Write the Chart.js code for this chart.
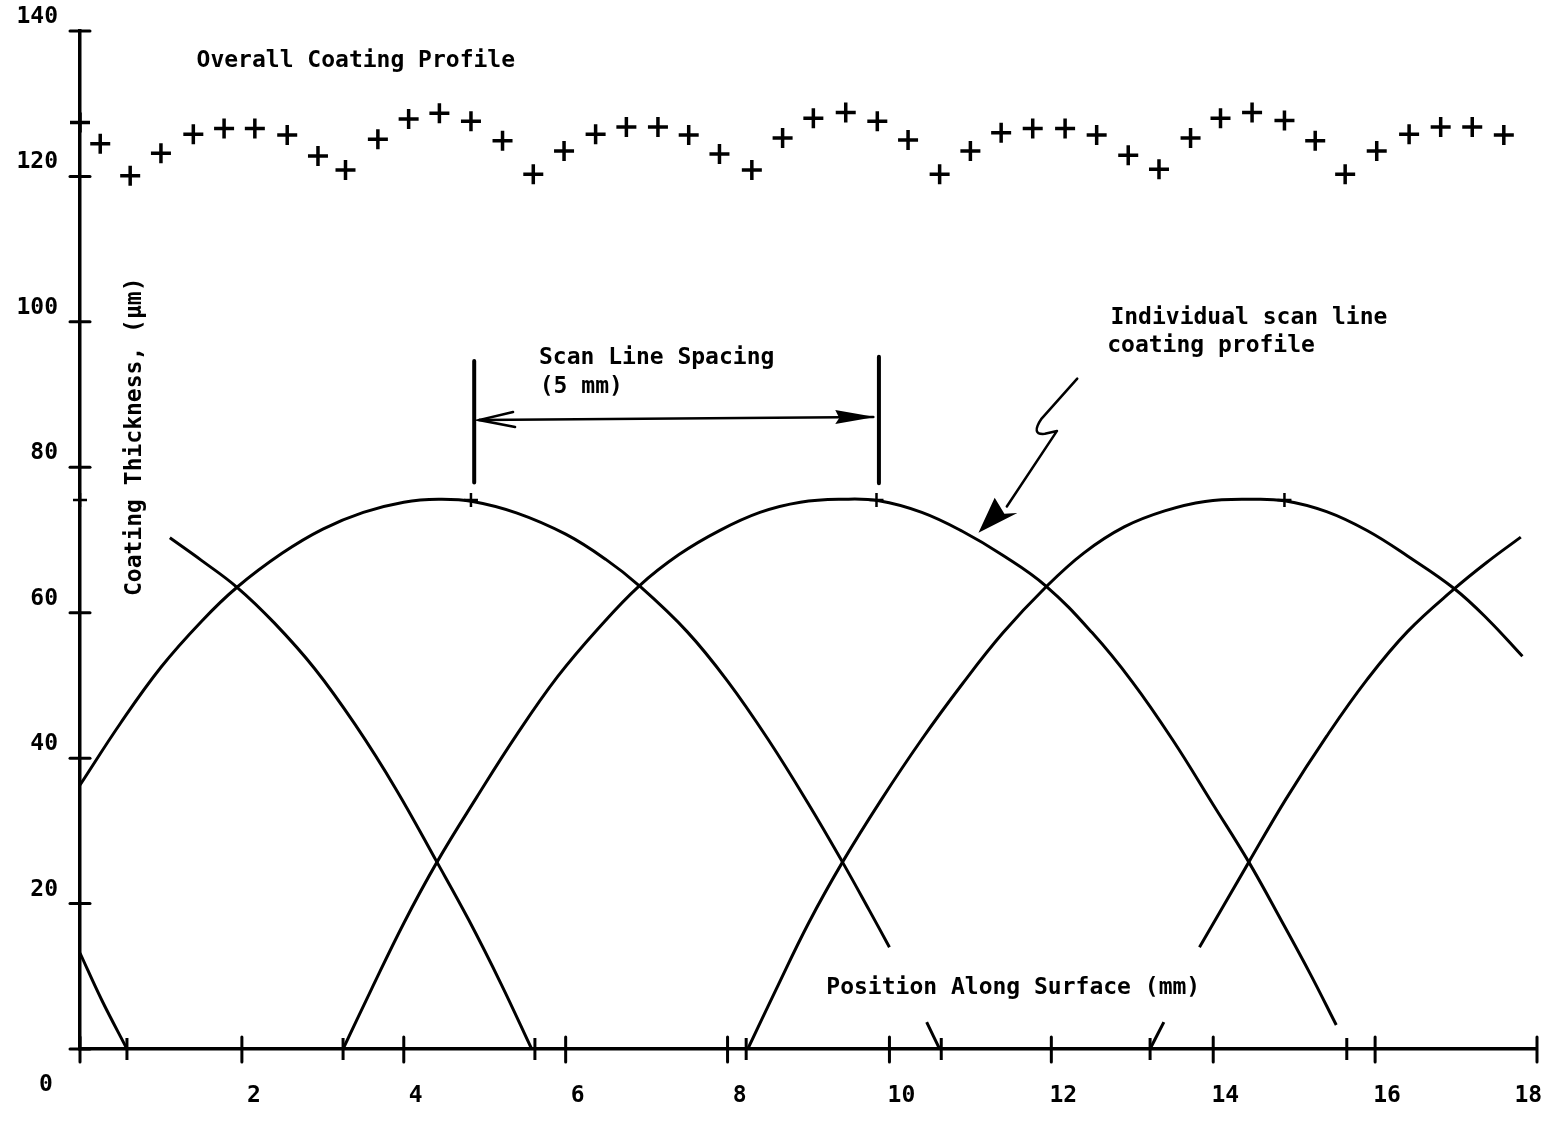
<!DOCTYPE html>
<html>
<head>
<meta charset="utf-8">
<title>Coating Thickness Profile</title>
<script src="https://cdn.jsdelivr.net/npm/chart.js@4.4.1/dist/chart.umd.min.js"></script>
<style>
  html, body { margin: 0; padding: 0; background: #fff; }
  #wrap { width: 1559px; height: 1122px; position: relative; }
</style>
</head>
<body>
<div id="wrap"><canvas id="coatingChart"></canvas></div>
<script>
// position along surface (mm) / coating thickness (um)
const xTicks = [0, 2, 4, 6, 8, 10, 12, 14, 16, 18];
const yTicks = [0, 20, 40, 60, 80, 100, 120, 140];

// overall coating profile (+ markers)
const overallX = [0, 0.25, 0.62, 1.0, 1.40, 1.78, 2.16, 2.56, 2.94, 3.28, 3.68, 4.06, 4.44, 4.83, 5.22, 5.60,
  5.98, 6.37, 6.75, 7.14, 7.52, 7.90, 8.30, 8.68, 9.06, 9.46, 9.85, 10.23, 10.62, 11.0, 11.38, 11.77,
  12.17, 12.56, 12.95, 13.33, 13.72, 14.09, 14.48, 14.88, 15.26, 15.63, 16.02, 16.42, 16.81, 17.20, 17.59];
const overallY = [127.4, 124.5, 120.1, 123.2, 125.8, 126.6, 126.6, 125.7, 122.8, 120.9, 125.1, 127.9, 128.7, 127.6, 124.9, 120.3,
  123.5, 125.8, 126.8, 126.8, 125.7, 123.1, 120.9, 125.3, 128.0, 128.8, 127.6, 125.0, 120.3, 123.5, 126.0, 126.6,
  126.6, 125.7, 122.9, 121.0, 125.3, 128.0, 128.8, 127.7, 124.9, 120.3, 123.5, 125.8, 126.8, 126.8, 125.7];

// individual scan line profiles (null = break in the drawn line)
const scan1X = [0, 0.27, 0.58];
const scan1Y = [13.2, 6.7, 0];

const scan2X = [1.11, 1.5, 1.94, 2.4, 2.9, 3.4, 3.9, 4.41, 4.8, 5.2, 5.58];
const scan2Y = [70.3, 67.2, 63.5, 58.6, 52.3, 44.6, 35.8, 25.7, 17.8, 9.0, 0];

const scan3X = [0, 0.5, 1.0, 1.5, 1.94, 2.5, 3.0, 3.5, 4.0, 4.43, 4.85, 5.4, 6.0, 6.5, 6.91, 7.5, 8.0, 8.5, 9.0, 9.42, 9.75, 10.0, 10.2, 10.46, 10.62];
const scan3Y = [36.3, 44.8, 52.5, 58.8, 63.5, 68.2, 71.5, 73.8, 75.2, 75.6, 75.3, 73.7, 70.8, 67.3, 63.7, 57.4, 50.6, 42.6, 33.7, 25.7, 19.1, 14.0, null, 3.7, 0];

const scan4X = [3.25, 3.6, 4.0, 4.41, 4.9, 5.4, 5.9, 6.4, 6.91, 7.4, 7.9, 8.4, 8.9, 9.42, 9.87, 10.4, 10.9, 11.4, 11.93, 12.5, 13.0, 13.5, 14.0, 14.44, 14.85, 15.2, 15.52];
const scan4Y = [0, 8.2, 17.3, 25.7, 34.6, 43.3, 51.2, 57.8, 63.7, 68.0, 71.3, 73.8, 75.2, 75.6, 75.4, 73.8, 71.2, 67.9, 63.7, 57.3, 50.5, 42.5, 33.6, 25.7, 17.5, 10.3, 3.3];

const scan5X = [8.25, 8.6, 9.0, 9.42, 9.9, 10.4, 10.9, 11.4, 11.93, 12.4, 12.9, 13.4, 13.9, 14.45, 14.88, 15.4, 15.9, 16.4, 16.98, 17.4, 17.82];
const scan5Y = [0, 8.2, 17.3, 25.7, 34.3, 42.6, 50.2, 57.2, 63.5, 68.2, 71.8, 74.0, 75.3, 75.6, 75.4, 73.9, 71.3, 67.8, 63.3, 59.0, 54.0];

const scan6X = [13.22, 13.39, 13.6, 13.83, 14.44, 14.9, 15.4, 15.9, 16.4, 16.98, 17.4, 17.8];
const scan6Y = [0, 3.7, null, 14.0, 25.7, 34.4, 43.0, 50.8, 57.4, 63.3, 67.1, 70.4];

// small + marks at the scan line peaks, and where each profile meets zero
const peakX = [0, 4.83, 9.84, 14.88];
const peakY = [75.5, 75.5, 75.5, 75.5];
const zeroX = [0.58, 3.25, 5.62, 8.23, 10.64, 13.22, 15.65];

const FONT = '"DejaVu Sans Mono", "Liberation Mono", monospace';
const pts = (xs, ys) => xs.map((x, i) => ({ x: x, y: ys[i] }));

function scanLine(xs, ys) {
  return {
    data: pts(xs, ys),
    borderColor: '#000',
    borderWidth: 3,
    pointRadius: 0,
    tension: 0.4,
    spanGaps: false,
  };
}

// axis ticks that cross the axis line, plus the lone "0" at the origin
const crossTicks = {
  id: 'crossTicks',
  afterDraw(chart) {
    const { ctx, scales: { x, y } } = chart;
    ctx.save();
    ctx.strokeStyle = '#000';
    ctx.lineWidth = 3;
    ctx.lineCap = 'round';
    xTicks.forEach(v => {
      const px = x.getPixelForValue(v);
      ctx.beginPath(); ctx.moveTo(px, y.bottom - 12); ctx.lineTo(px, y.bottom + 13); ctx.stroke();
    });
    yTicks.forEach(v => {
      const py = y.getPixelForValue(v);
      ctx.beginPath(); ctx.moveTo(x.left - 10, py); ctx.lineTo(x.left + 10, py); ctx.stroke();
    });
    ctx.fillStyle = '#000';
    ctx.font = 'bold 23px ' + FONT;
    ctx.textAlign = 'center';
    ctx.textBaseline = 'middle';
    ctx.fillText('0', x.left - 34, y.bottom + 36);
    ctx.restore();
  }
};

// captions, axis titles and arrows
const notes = {
  id: 'notes',
  afterDraw(chart) {
    const { ctx, scales: { x, y } } = chart;
    const X = v => x.getPixelForValue(v);
    const Y = v => y.getPixelForValue(v);
    ctx.save();
    ctx.fillStyle = '#000';
    ctx.strokeStyle = '#000';
    ctx.font = 'bold 23px ' + FONT;
    ctx.textAlign = 'left';
    ctx.textBaseline = 'middle';
    ctx.fillText('Overall Coating Profile', X(1.44), Y(135.9));
    ctx.fillText('Scan Line Spacing', X(5.67), Y(95.0));
    ctx.fillText('(5 mm)', X(5.68), Y(91.1));
    ctx.fillText('Individual scan line', X(12.73), Y(100.5));
    ctx.fillText('coating profile', X(12.69), Y(96.7));
    ctx.fillText('Position Along Surface (mm)', X(9.22), Y(8.4));

    // y axis title, written upward
    ctx.save();
    ctx.translate(X(0.68), Y(84.2));
    ctx.rotate(-Math.PI / 2);
    ctx.textAlign = 'center';
    ctx.fillText('Coating Thickness, (\u00b5m)', 0, 0);
    ctx.restore();

    // scan line spacing bars
    ctx.lineCap = 'round';
    ctx.lineWidth = 4;
    ctx.beginPath();
    ctx.moveTo(X(4.87), Y(94.6)); ctx.lineTo(X(4.87), Y(77.9));
    ctx.moveTo(X(9.87), Y(95.2)); ctx.lineTo(X(9.87), Y(77.8));
    ctx.stroke();

    // double arrow between the bars
    const ax1 = X(4.93), ax2 = X(9.80), ay1 = Y(86.5), ay2 = Y(86.9);
    ctx.lineWidth = 2.5;
    ctx.beginPath(); ctx.moveTo(ax1, ay1); ctx.lineTo(ax2, ay2); ctx.stroke();
    ctx.beginPath();
    ctx.moveTo(ax1 + 34, ay1 - 8); ctx.lineTo(ax1, ay1); ctx.lineTo(ax1 + 36, ay1 + 7);
    ctx.stroke();
    ctx.beginPath();
    ctx.moveTo(ax2 + 2, ay2); ctx.lineTo(ax2 - 38, ay2 - 7); ctx.lineTo(ax2 - 34, ay2 + 1); ctx.lineTo(ax2 - 38, ay2 + 7);
    ctx.closePath(); ctx.fill();

    // zig-zag leader pointing at a scan line profile
    ctx.lineWidth = 2.5;
    ctx.lineJoin = 'round';
    ctx.beginPath();
    ctx.moveTo(X(12.32), Y(92.2));
    ctx.lineTo(X(11.88), Y(86.7));
    ctx.quadraticCurveTo(X(11.74), Y(84.4), X(11.92), Y(84.6));
    ctx.lineTo(X(12.07), Y(85.0));
    ctx.lineTo(X(11.45), Y(74.6));
    ctx.stroke();
    const tipX = X(11.1), tipY = Y(71.0);
    ctx.beginPath();
    ctx.moveTo(tipX, tipY);
    ctx.lineTo(X(11.30), Y(75.8));
    ctx.lineTo(X(11.42), Y(73.6));
    ctx.lineTo(X(11.58), Y(73.7));
    ctx.closePath(); ctx.fill();
    ctx.restore();
  }
};

const ctx = document.getElementById('coatingChart').getContext('2d');
new Chart(ctx, {
  type: 'line',
  data: {
    datasets: [
      {
        data: pts(overallX, overallY),
        showLine: false,
        pointStyle: 'cross',
        pointRadius: 10,
        pointBorderWidth: 3.5,
        borderColor: '#000',
        clip: false,
      },
      scanLine(scan1X, scan1Y),
      scanLine(scan2X, scan2Y),
      scanLine(scan3X, scan3Y),
      scanLine(scan4X, scan4Y),
      scanLine(scan5X, scan5Y),
      scanLine(scan6X, scan6Y),
      {
        data: pts(peakX, peakY),
        showLine: false,
        pointStyle: 'cross',
        pointRadius: 7,
        pointBorderWidth: 2.5,
        borderColor: '#000',
        clip: false,
      },
      {
        data: zeroX.map(v => ({ x: v, y: 0 })),
        showLine: false,
        pointStyle: 'line',
        pointRotation: 90,
        pointRadius: 11,
        pointBorderWidth: 3,
        borderColor: '#000',
        clip: false,
      },
    ],
  },
  options: {
    responsive: true,
    maintainAspectRatio: false,
    animation: false,
    layout: { padding: { top: 31, right: 22, left: 0, bottom: 0 } },
    plugins: {
      legend: { display: false },
      tooltip: { enabled: false },
    },
    scales: {
      x: {
        type: 'linear',
        min: 0,
        max: 18,
        afterFit: s => { s.height = 73; s.paddingLeft = 0; s.paddingRight = 0; },
        afterBuildTicks: s => { s.ticks = xTicks.map(v => ({ value: v })); },
        grid: { display: false, drawTicks: false },
        border: { display: true, color: '#000', width: 3.5 },
        ticks: {
          color: '#000',
          font: { family: FONT, size: 23, weight: 'bold' },
          padding: 33,
          labelOffset: 12,
          maxRotation: 0,
          // origin "0" is drawn separately; trailing spaces keep the last label on the canvas
          callback: v => (v === 0 ? '' : v === 18 ? '18   ' : String(v)),
        },
      },
      y: {
        min: 0,
        max: 140,
        afterFit: s => { s.width = 80; s.paddingTop = 0; s.paddingBottom = 0; },
        afterBuildTicks: s => { s.ticks = yTicks.map(v => ({ value: v })); },
        grid: { display: false, drawTicks: false },
        border: { display: true, color: '#000', width: 3.5 },
        ticks: {
          color: '#000',
          font: { family: FONT, size: 23, weight: 'bold' },
          padding: 22,
          labelOffset: -14,
          callback: v => (v === 0 ? '' : v),
        },
      },
    },
  },
  plugins: [crossTicks, notes],
});
</script>
</body>
</html>
